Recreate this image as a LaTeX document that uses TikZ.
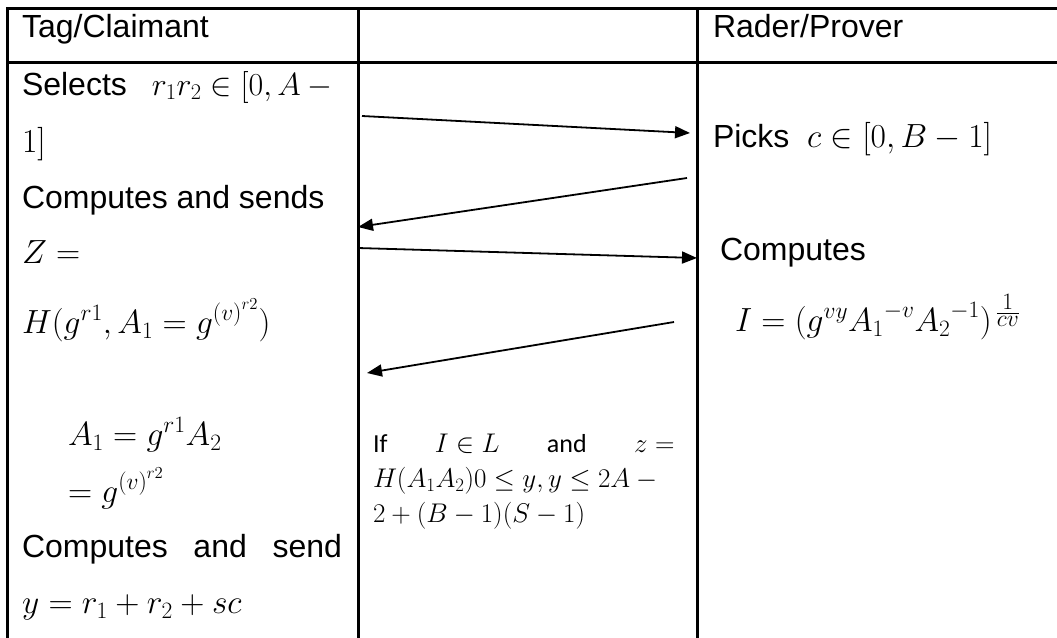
\RequirePackage{fix-cm}
\documentclass[tikz,border=0pt]{standalone}
\usepackage{fontspec}
\setmainfont{Liberation Sans}
\newfontfamily\calib{Carlito}
\usetikzlibrary{arrows.meta}
\newcommand{\bmth}[1]{{\fontsize{33.5}{40}\selectfont$#1$}}
\newcommand{\smth}[1]{{\fontsize{27}{32}\selectfont$#1$}}
\tikzset{
  grid/.style={line width=3pt, line cap=rect},
  txt/.style={anchor=base west, inner sep=0pt, outer sep=0pt, font=\fontsize{32}{38}\selectfont},
  smalltxt/.style={anchor=base west, inner sep=0pt, outer sep=0pt, font=\calib\fontsize{26}{31}\selectfont},
  msg/.style={line width=1.8pt, -{Triangle[length=15pt,width=12pt]}}
}
\begin{document}
\begin{tikzpicture}[x=1pt,y=-1pt]
\useasboundingbox (0,0) rectangle (1057,637);
% table grid
\coordinate (tl) at (7,8);
\coordinate (tr) at (1060,8);
\coordinate (hl) at (7,62);
\coordinate (hr) at (1060,62);
\coordinate (c1t) at (358,8);
\coordinate (c1b) at (358,640);
\coordinate (c2t) at (697,8);
\coordinate (c2b) at (697,640);
\coordinate (lb) at (7,640);
\draw[grid] (tl) -- (tr);
\draw[grid] (hl) -- (hr);
\draw[grid] (tl) -- (lb);
\draw[grid] (c1t) -- (c1b);
\draw[grid] (c2t) -- (c2b);
% header
\node[txt] (tag) at (22,37) {Tag/Claimant};
\node[txt] (rader) at (713,37) {Rader/Prover};
% left column
\node[txt] (sel1) at (22,95) {\hbox to 318pt{Selects\hfill$r_1r_2\in[0,A-{}$}};
\node[txt] (sel2) at (22,152) {\bmth{1]}};
\node[txt] (comp1) at (22,208) {Computes and sends};
\node[txt] (zeq) at (22,263) {\bmth{Z={}}};
\node[txt] (hline) at (22,333) {\bmth{H(g^{r1},A_1=g^{{(v)}^{r2}})}};
\node[txt] (a1) at (68,445) {\bmth{A_1=g^{r1}A_2}};
\node[txt] (a1b) at (68,502) {\bmth{={}g^{{(v)}^{r2}}}};
\node[txt] (comp2) at (22,557) {\hbox to 320pt{Computes\hfill and\hfill send}};
\node[txt] (yeq) at (22,613) {\bmth{y=r_1+r_2+sc}};
% right column
\node[txt] (picks) at (713,147) {Picks\ \ \bmth{c\in[0,B-1]}};
\node[txt] (compR) at (720,260) {Computes};
\node[txt] (ieq) at (735,331) {\bmth{I=(g^{vy}{A_1}^{-v}{A_2}^{-1})^{\,\frac{\scriptstyle 1}{\scriptstyle cv}}}};
% middle column
\node[smalltxt] (if1) at (373,452) {\hbox to 309pt{If\hfill\smth{I\in L}\hfill and\hfill\smth{z={}}}};
\node[smalltxt] (if2) at (373,487) {\smth{H(A_1A_2)0\le y,y\le 2A-{}}};
\node[smalltxt] (if3) at (373,522) {\smth{2+(B-1)(S-1)}};
% messages
\coordinate (m1s) at (362,116);
\coordinate (m1e) at (690,133);
\coordinate (m2s) at (687,178);
\coordinate (m2e) at (358,227);
\coordinate (m3s) at (358,248);
\coordinate (m3e) at (697,258);
\coordinate (m4s) at (674,322);
\coordinate (m4e) at (367,373);
\draw[msg] (m1s) -- (m1e);
\draw[msg] (m2s) -- (m2e);
\draw[msg] (m3s) -- (m3e);
\draw[msg] (m4s) -- (m4e);
\end{tikzpicture}
\end{document}
